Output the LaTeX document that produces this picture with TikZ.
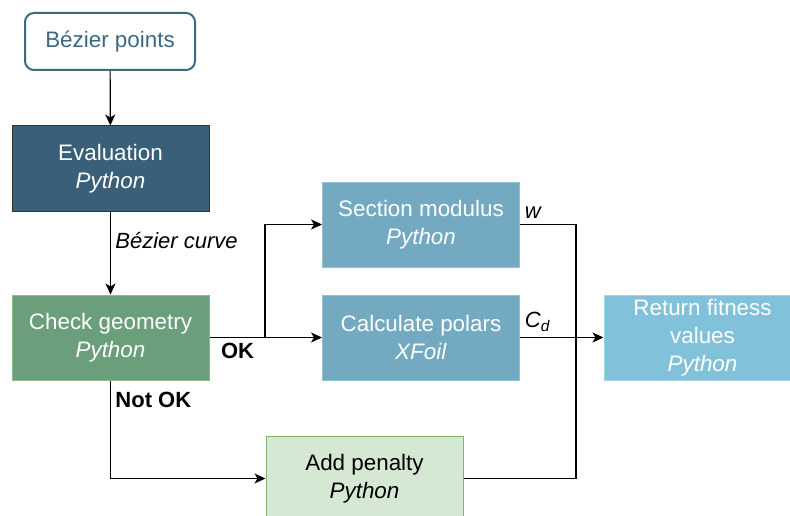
\documentclass[tikz,border=0pt]{standalone}
\usepackage{fontspec}
\setmainfont{Liberation Sans}
\usetikzlibrary{arrows.meta,calc}

\definecolor{pointcol}{HTML}{3C6882}
\definecolor{evalcol}{HTML}{3A5F78}
\definecolor{checkcol}{HTML}{6B9E7A}
\definecolor{checkline}{HTML}{8CBB8F}
\definecolor{toolcol}{HTML}{73AAC1}
\definecolor{toolline}{HTML}{93C0D2}
\definecolor{fitcol}{HTML}{82C1DA}
\definecolor{fitline}{HTML}{A3D3E6}
\definecolor{penaltycol}{HTML}{D5E8D4}
\definecolor{penaltyline}{HTML}{82B366}

\tikzset{
  box/.style={rectangle, minimum width=197pt, minimum height=85pt, align=center,
    font=\fontsize{22.4}{28}\selectfont, line width=1pt},
  flow/.style={line width=1.2pt, -{Stealth[length=11pt,width=10pt,inset=3pt]}},
  link/.style={line width=1.2pt},
  lbl/.style={font=\fontsize{22}{26}\selectfont}
}

\begin{document}
\begin{tikzpicture}[x=1pt,y=-1pt]
		\useasboundingbox (0,0) rectangle (790,516);
		\node[box, draw=pointcol, line width=2pt, rounded corners=9pt, text=pointcol,
		      minimum width=170pt, minimum height=57pt] (points) at (110,41.5) {Bézier points};
		\node[box, fill=evalcol, draw=black!80, text=white] (eval) at (110.5,168.5) {Evaluation\\\textit{Python}};
		\node[box, fill=checkcol, draw=checkline, text=white] (check) at (110.5,337.5) {Check geometry\\\textit{Python}};
		\node[box, fill=toolcol, draw=toolline, text=white] (section) at (421,224.5) {Section modulus\\\textit{Python}};
		\node[box, fill=toolcol, draw=toolline, text=white] (polars) at (421,337.5) {Calculate polars\\\textit{XFoil}};
		\node[box, fill=fitcol, draw=fitline, text=white] (fitness) at (702.5,337.5) {Return fitness\\values\\\textit{Python}};
		\node[box, fill=penaltycol, draw=penaltyline, text=black] (penalty) at (364.5,478.5) {Add penalty\\\textit{Python}};
		\coordinate (split) at (265,337.5);
		\coordinate (merge) at (576,337.5);
		% connectors
		\draw[flow] (points) -- (eval);
		\draw[flow] (eval) -- node[lbl, pos=0.35, right=1pt]{\textit{Bézier curve}} (check);
		\draw[flow] (check) -- node[lbl, pos=0.25, below=2pt]{\textbf{OK}} (polars);
		\draw[flow] (split) |- (section.west);
		\draw[flow] (check.south) -- node[lbl, pos=0.2, right=1pt]{\textbf{Not OK}} (check.south |- penalty.west) -- (penalty.west);
		\draw[link] (section.east) node[lbl, anchor=south west, xshift=1pt, yshift=2pt]{\textit{w}} -| (merge);
		\draw[link] (penalty.east) -| (merge);
		\draw[flow] (polars.east) node[lbl, anchor=south west, xshift=1pt, yshift=2pt]{\textit{C\textsubscript{d}}} -- (fitness.west);
\end{tikzpicture}
\end{document}
